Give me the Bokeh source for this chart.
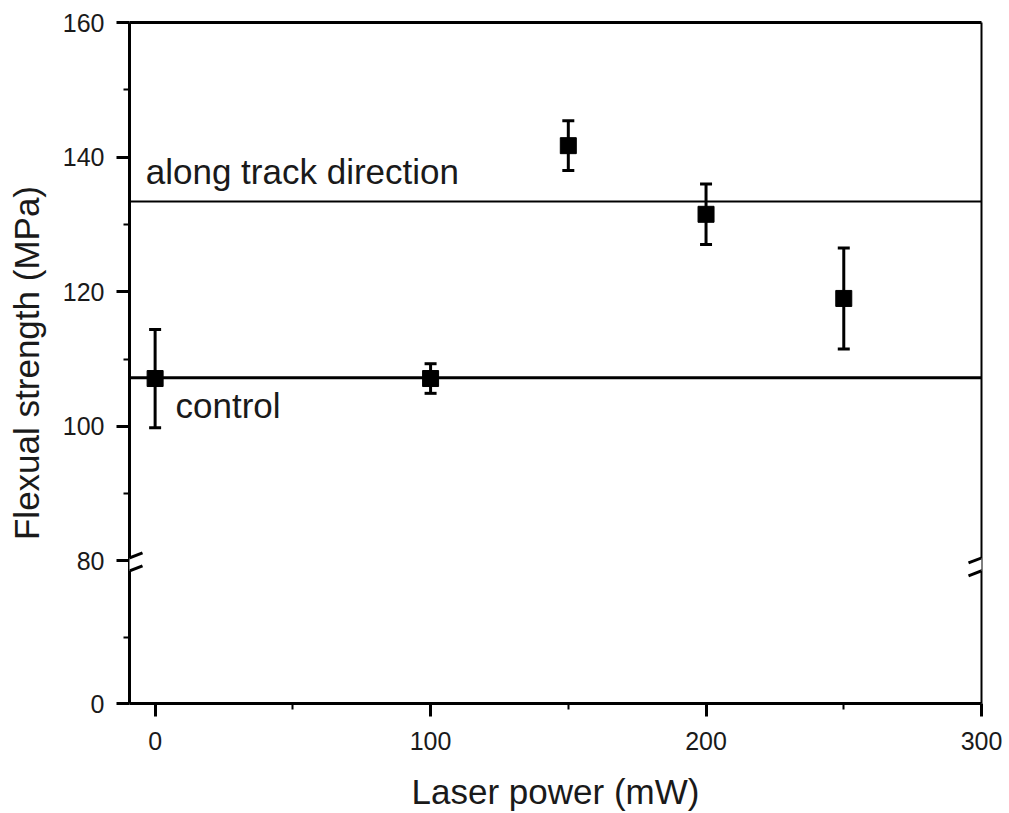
from bokeh.plotting import figure
from bokeh.models import (ColumnDataSource, FixedTicker, LinearAxis, Range1d, Span,
                          Whisker, TeeHead, Label, Arrow)
from bokeh.embed import file_html
from bokeh.resources import INLINE

# Flexural strength vs. laser power (mean and error)
laser_power = [0, 100, 150, 200, 250]
strength_mean = [107.1, 107.1, 141.7, 131.5, 119.0]
strength_err = [7.3, 2.2, 3.7, 4.5, 7.5]

# Reference levels
control_strength = 107.2
along_track_strength = 133.4

# Axis ticks
x_ticks = [0, 100, 200, 300]
x_minor = [50, 150, 250]
y_ticks = [0, 80, 100, 120, 140, 160]
y_minor = [40, 90, 110, 130, 150]

# Broken y axis: 0-80 is compressed below the break, 80-160 is expanded above it
BREAK = 80
LOW_SCALE = 1.65
HIGH_SCALE = 6.75
HIGH_OFFSET = 143.0
Y_TOP = HIGH_OFFSET + (160 - BREAK) * HIGH_SCALE


def to_axis(v, below=False):
    if v < BREAK or (v == BREAK and below):
        return v * LOW_SCALE
    return HIGH_OFFSET + (v - BREAK) * HIGH_SCALE


X_START, X_END = -9.3, 300
FONT = "Liberation Sans"
INK = "#1a1a1a"

p = figure(width=1009, height=813,
           x_range=Range1d(X_START, X_END), y_range=Range1d(0, Y_TOP),
           output_backend="svg", toolbar_location=None,
           x_axis_location=None, y_axis_location=None,
           min_border_left=129, min_border_right=28,
           min_border_top=22, min_border_bottom=108)
p.outline_line_color = None
p.background_fill_color = "white"
p.border_fill_color = "white"
p.xgrid.visible = False
p.ygrid.visible = False


def style_axis(ax, line_width=3):
    ax.axis_line_width = line_width
    ax.axis_line_color = "black"
    ax.major_tick_line_width = 3
    ax.major_tick_line_color = "black"
    ax.major_tick_out = 13
    ax.major_tick_in = 0
    ax.minor_tick_line_width = 2
    ax.minor_tick_line_color = "black"
    ax.minor_tick_out = 6
    ax.minor_tick_in = 0
    ax.major_label_text_font = FONT
    ax.major_label_text_font_size = "25px"
    ax.major_label_text_color = INK
    ax.major_label_standoff = 12
    ax.axis_label_text_font = FONT
    ax.axis_label_text_font_size = "35px"
    ax.axis_label_text_font_style = "normal"
    ax.axis_label_text_color = INK


xaxis = LinearAxis(ticker=FixedTicker(ticks=x_ticks, minor_ticks=x_minor),
                   axis_label="Laser power (mW)")
style_axis(xaxis)
xaxis.major_label_standoff = 15
xaxis.axis_label_standoff = 19
p.add_layout(xaxis, "below")

yaxis = LinearAxis(ticker=FixedTicker(ticks=[to_axis(v) for v in y_ticks],
                                      minor_ticks=[to_axis(v) for v in y_minor]),
                   axis_label="Flexual strength (MPa)")
yaxis.major_label_overrides = {to_axis(v): str(v) for v in y_ticks}
style_axis(yaxis)
yaxis.axis_label_standoff = 14
p.add_layout(yaxis, "left")

top_axis = LinearAxis(ticker=FixedTicker(ticks=[], minor_ticks=[]))
style_axis(top_axis)
p.add_layout(top_axis, "above")

right_axis = LinearAxis(ticker=FixedTicker(ticks=[], minor_ticks=[]))
style_axis(right_axis, line_width=2)
p.add_layout(right_axis, "right")

# Horizontal reference lines
p.add_layout(Span(location=to_axis(control_strength), dimension="width",
                  line_color="black", line_width=3))
p.add_layout(Span(location=to_axis(along_track_strength), dimension="width",
                  line_color="black", line_width=2))

p.add_layout(Label(x=-3.4, y=to_axis(137.9), text="along track direction",
                   text_font=FONT, text_font_size="35px", text_color=INK,
                   text_baseline="alphabetic"))
p.add_layout(Label(x=7.4, y=to_axis(103.1), text="control",
                   text_font=FONT, text_font_size="35px", text_color=INK,
                   text_baseline="alphabetic"))

# Data points with error bars
src = ColumnDataSource(dict(
    x=laser_power,
    y=[to_axis(m) for m in strength_mean],
    upper=[to_axis(m + e) for m, e in zip(strength_mean, strength_err)],
    lower=[to_axis(m - e) for m, e in zip(strength_mean, strength_err)],
))
p.add_layout(Whisker(source=src, base="x", upper="upper", lower="lower",
                     line_color="black", line_width=3,
                     upper_head=TeeHead(size=12, line_color="black", line_width=3),
                     lower_head=TeeHead(size=12, line_color="black", line_width=3)))
p.scatter("x", "y", source=src, marker="square", size=16,
          fill_color="black", line_color="black")

# Axis break symbols on both vertical edges
px_per_x = 852 / (X_END - X_START)
gap_mid = (to_axis(BREAK) + to_axis(BREAK, below=True)) / 2 + 2
half_w = 13 / px_per_x
for edge in (X_START, X_END):
    p.add_layout(Arrow(start=None, end=None, x_start=edge, x_end=edge,
                       y_start=gap_mid - 6.5, y_end=gap_mid + 6.5,
                       line_color="white", line_width=7, level="overlay"))
    for dy in (-6.5, 6.5):
        p.add_layout(Arrow(start=None, end=None,
                           x_start=edge - half_w, y_start=gap_mid + dy - 5,
                           x_end=edge + half_w, y_end=gap_mid + dy + 5,
                           line_color="black", line_width=3, level="overlay"))

open("out.html", "w").write(file_html(p, INLINE))
